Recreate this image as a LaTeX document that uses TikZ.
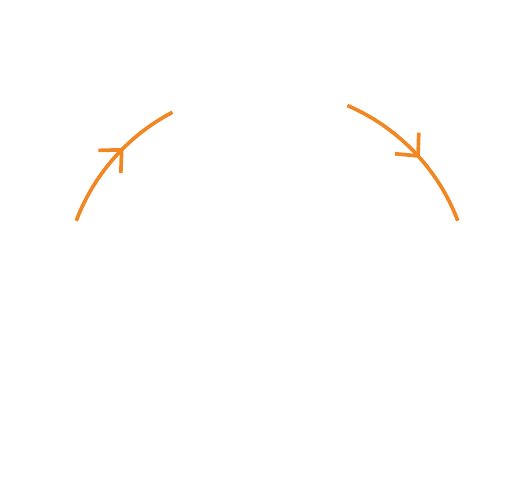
\documentclass[tikz,border=0pt]{standalone}
\usepackage{tikz}
\usetikzlibrary{calc}
\usetikzlibrary{arrows.meta}
\usetikzlibrary{decorations.markings}
\definecolor{arc-orange}{RGB}{241,135,34}

\begin{document}
\begin{tikzpicture}
  [
    x=0.02cm, y=0.02cm,
    flow/.style = {draw=arc-orange, line width=2.1pt, postaction={decorate},
      decoration={markings, mark=at position #1 with
        {\arrow{Straight Barb[length=0.34cm, width=0.64cm, line cap=butt]}}}}
  ]
% Frame
\useasboundingbox (0, 0) rectangle (530, 500);

% ---------------------------------------------------
% Centre of the circle
\coordinate[] (c) at (267, 207);
\coordinate[] (l0) at ($ (c) + (159.25:204) $);
\coordinate[] (r0) at ($ (c) + (66.8:204) $);

% Left arc
\draw[flow=0.59] (l0) arc (159.25:117.6:204);
% Right arc
\draw[flow=0.55] (r0) arc (66.8:20.75:204);
% ---------------------------------------------------
\end{tikzpicture}
\end{document}
